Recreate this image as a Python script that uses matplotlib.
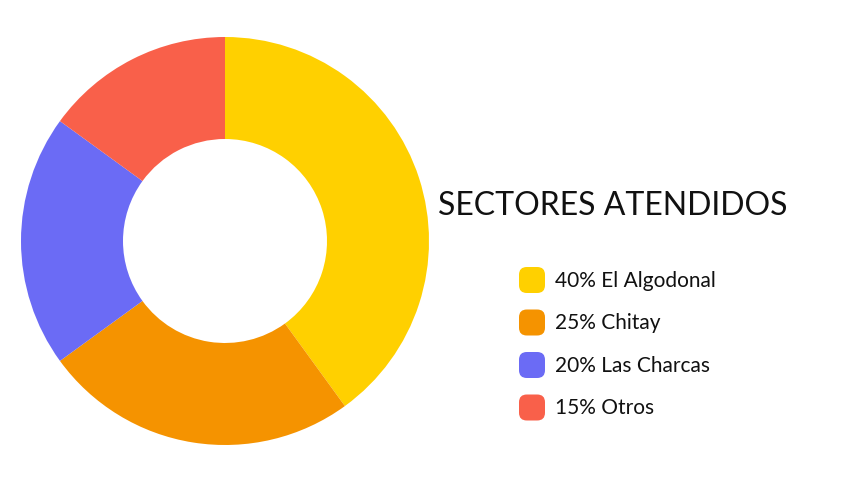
import matplotlib.pyplot as plt
from matplotlib.patches import FancyBboxPatch

sectors = ["El Algodonal", "Chitay", "Las Charcas", "Otros"]
shares = [40, 25, 20, 15]
colors = ["#FFD000", "#F59300", "#6B6BF5", "#F9604A"]
title = "SECTORES ATENDIDOS"

W, H = 863, 485
fig = plt.figure(figsize=(W / 100, H / 100), dpi=100)

# donut
ax = fig.add_axes([21 / W, 1 - 446 / H, 408 / W, 408 / H])
ax.pie(shares, colors=colors, startangle=90, counterclock=False,
       wedgeprops=dict(width=0.5, linewidth=0))
ax.set_xlim(-1, 1)
ax.set_ylim(-1, 1)
ax.set_aspect("equal")
ax.axis("off")

fig.text(438 / W, 1 - 206 / H, title, fontsize=23, family="Lato",
         va="center", ha="left", color="#111111")

# legend
box = 26
for i, (name, val, col) in enumerate(zip(sectors, shares, colors)):
    yc = 281 + i * 42.5
    p = FancyBboxPatch(((519) / W, 1 - (yc + box / 2) / H), box / W, box / H,
                       boxstyle="round,pad=0,rounding_size=0.009",
                       transform=fig.transFigure, facecolor=col,
                       edgecolor="none", mutation_aspect=W / H)
    fig.patches.append(p)
    fig.text(555 / W, 1 - yc / H, f"{val}% {name}", fontsize=15,
             family="Lato", va="center", ha="left", color="#111111")

fig.savefig("out.png", dpi=100)
